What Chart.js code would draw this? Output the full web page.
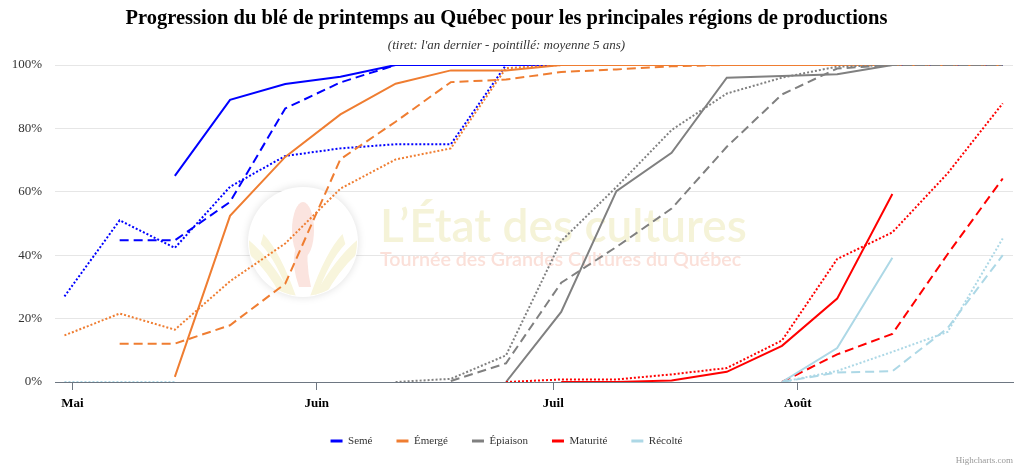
<!DOCTYPE html>
<html lang="fr">
<head>
<meta charset="utf-8">
<title>Progression du blé de printemps au Québec</title>
<script src="https://cdn.jsdelivr.net/npm/chart.js@4.4.1/dist/chart.umd.min.js"></script>
<style>
  html, body { margin: 0; padding: 0; background: #fff; }
</style>
</head>
<body>
<canvas id="chart" width="1024" height="468"></canvas>
<script>
// relevés hebdomadaires (mois-jour)
const semaines = ['04-30','05-07','05-14','05-21','05-28','06-04','06-11','06-18','06-25',
                  '07-02','07-09','07-16','07-23','07-30','08-06','08-13','08-20','08-27'];
const moisDebut = ['05-01','06-01','07-01','08-01'];
const moisLabels = ['Mai','Juin','Juil','Août'];
const pourcentTicks = [0, 20, 40, 60, 80, 100];

// Semé
const semeActuel    = [null,null,65,89,94,96.3,100,100,100,100,100,100,100,100,100,100,null,null];
const semeAnDernier = [null,44.7,44.7,56.8,86.3,94.5,100,100,100,100,100,100,100,100,100,100,100,100];
const semeMoyenne   = [27,51,42.3,61.6,71.3,73.7,75,75,100,100,100,100,100,100,100,100,100,100];

// Émergé
const emergeActuel    = [null,null,1.6,52.4,71,84.4,94.1,98.3,98.3,100,100,100,100,100,100,100,null,null];
const emergeAnDernier = [null,12.1,12.1,17.9,31,70.3,82.1,94.6,95.4,97.8,98.6,99.6,100,100,100,100,100,100];
const emergeMoyenne   = [14.7,21.6,16.5,31.8,43.7,61,70.2,73.7,99,100,100,100,100,100,100,100,100,100];

// Épiaison
const epiActuel    = [null,null,null,null,null,null,null,null,0,22.1,60.2,72.3,96,96.5,97.1,100,null,null];
const epiAnDernier = [null,null,null,null,null,null,null,0.3,5.9,31.3,42.6,54.7,74.2,90.7,98.9,100,100,100];
const epiMoyenne   = [null,null,null,null,null,null,0,1,8.4,44.5,61.5,79.5,91,96,99.5,100,100,100];

// Maturité
const matActuel    = [null,null,null,null,null,null,null,null,null,0,0,0.5,3.2,11.4,26.3,59.3,null,null];
const matAnDernier = [null,null,null,null,null,null,null,null,null,null,null,null,null,0,8.7,15.2,40.3,64.2];
const matMoyenne   = [null,null,null,null,null,null,null,null,0,0.8,0.8,2.4,4.4,13.1,38.8,47.2,65.8,87.9];

// Récolté
const recActuel    = [null,null,null,null,null,null,null,null,null,null,null,null,null,0,10.7,39.2,null,null];
const recAnDernier = [null,null,null,null,null,null,null,null,null,null,null,null,null,0,3,3.4,17,40];
const recMoyenne   = [0,0,0,null,null,null,null,null,null,null,null,null,null,0,3.5,9.5,15.8,45.3];

// jours depuis le 1er mai
const jourDe = (md) => {
    const [m, d] = md.split('-').map(Number);
    return (Date.UTC(2024, m - 1, d) - Date.UTC(2024, 4, 1)) / 86400000;
};
const joursSemaines = semaines.map(jourDe);
const joursMois = moisDebut.map(jourDe);

const POLICE = "'Liberation Serif', 'Times New Roman', serif";
Chart.defaults.font.family = POLICE;

const TIRET = [9, 5];
const POINTILLE = [2, 2];

function serie(nom, couleur, valeurs, tiret, legende) {
    return {
        label: nom,
        data: valeurs.map((v, i) => ({x: joursSemaines[i], y: v})),
        borderColor: couleur,
        backgroundColor: couleur,
        borderWidth: 2,
        borderDash: tiret,
        pointRadius: 0,
        pointHoverRadius: 0,
        tension: 0,
        fill: false,
        legende: legende
    };
}

const datasets = [
    serie('Semé', '#0000ff', semeActuel, [], true),
    serie('Semé (an dernier)', '#0000ff', semeAnDernier, TIRET, false),
    serie('Semé (moyenne)', '#0000ff', semeMoyenne, POINTILLE, false),
    serie('Émergé', '#ef7d31', emergeActuel, [], true),
    serie('Émergé (an dernier)', '#ef7d31', emergeAnDernier, TIRET, false),
    serie('Émergé (moyenne)', '#ef7d31', emergeMoyenne, POINTILLE, false),
    serie('Épiaison', '#808080', epiActuel, [], true),
    serie('Épiaison (an dernier)', '#808080', epiAnDernier, TIRET, false),
    serie('Épiaison (moyenne)', '#808080', epiMoyenne, POINTILLE, false),
    serie('Maturité', '#ff0000', matActuel, [], true),
    serie('Maturité (an dernier)', '#ff0000', matAnDernier, TIRET, false),
    serie('Maturité (moyenne)', '#ff0000', matMoyenne, POINTILLE, false),
    serie('Récolté', '#add8e6', recActuel, [], true),
    serie('Récolté (an dernier)', '#add8e6', recAnDernier, TIRET, false),
    serie('Récolté (moyenne)', '#add8e6', recMoyenne, POINTILLE, false)
];
// les dernières séries passent par-dessus
datasets.forEach((d, i) => d.order = datasets.length - i);

// filigrane + crédit
const filigrane = {
    id: 'filigrane',
    beforeDatasetsDraw(chart) {
        const ctx = chart.ctx;
        ctx.save();
        // logo rond
        const cx = 303, cy = 242, r = 55;
        ctx.shadowColor = 'rgba(0,0,0,0.13)';
        ctx.shadowBlur = 8;
        ctx.beginPath();
        ctx.arc(cx, cy, r, 0, Math.PI * 2);
        ctx.fillStyle = '#fff';
        ctx.fill();
        ctx.shadowBlur = 0;
        ctx.shadowColor = 'transparent';
        ctx.beginPath();
        ctx.arc(cx, cy, r - 1, 0, Math.PI * 2);
        ctx.clip();
        ctx.fillStyle = '#f8f5dc';
        [-1.1, -0.6, 0.6, 1.1].forEach(a => {
            ctx.beginPath();
            ctx.moveTo(cx + Math.sin(a) * 12, cy + 55);
            ctx.quadraticCurveTo(cx + Math.sin(a) * 40, cy + 10, cx + Math.sin(a) * 70, cy - 8);
            ctx.lineTo(cx + Math.sin(a) * 75, cy + 2);
            ctx.quadraticCurveTo(cx + Math.sin(a) * 45, cy + 20, cx + Math.sin(a) * 24, cy + 55);
            ctx.fill();
        });
        ctx.fillStyle = '#fbe4df';
        ctx.beginPath();
        ctx.ellipse(cx, cy - 12, 11, 28, 0, 0, Math.PI * 2);
        ctx.fill();
        ctx.beginPath();
        ctx.moveTo(cx - 4, cy + 45);
        ctx.quadraticCurveTo(cx - 18, cy + 5, cx + 6, cy - 10);
        ctx.quadraticCurveTo(cx + 2, cy + 20, cx + 8, cy + 45);
        ctx.fill();
        ctx.restore();

        ctx.save();
        ctx.textBaseline = 'alphabetic';
        ctx.textAlign = 'left';
        ctx.font = "600 44px Lato";
        let w = ctx.measureText('L’État des cultures').width;
        ctx.font = "600 " + (44 * 367 / w).toFixed(1) + "px Lato";
        ctx.fillStyle = '#f5f3d8';
        ctx.fillText('L’État des cultures', 380, 242);
        ctx.font = "600 18px Lato";
        w = ctx.measureText('Tournée des Grandes Cultures du Québec').width;
        ctx.font = "600 " + (18 * 362 / w).toFixed(1) + "px Lato";
        ctx.fillStyle = '#fbe0d9';
        ctx.fillText('Tournée des Grandes Cultures du Québec', 380, 266);
        ctx.restore();
    },
    afterDraw(chart) {
        const ctx = chart.ctx;
        ctx.save();
        ctx.font = "9px " + POLICE;
        ctx.fillStyle = '#999';
        ctx.textAlign = 'right';
        ctx.textBaseline = 'alphabetic';
        ctx.fillText('Highcharts.com', 1013, 463);
        ctx.restore();
    }
};

new Chart(document.getElementById('chart'), {
    type: 'line',
    data: {datasets},
    plugins: [filigrane],
    options: {
        responsive: false,
        animation: false,
        layout: {padding: {left: 0, right: 11, top: 0, bottom: 11.5}},
        plugins: {
            title: {
                display: true,
                text: 'Progression du blé de printemps au Québec pour les principales régions de productions',
                color: '#000',
                font: {size: 20.5, weight: 'bold'},
                padding: {top: 6, bottom: 0}
            },
            subtitle: {
                display: true,
                text: "(tiret: l'an dernier - pointillé: moyenne 5 ans)",
                color: '#333',
                font: {size: 13, style: 'italic'},
                padding: {top: 7, bottom: 11.8}
            },
            legend: {
                position: 'bottom',
                labels: {
                    boxWidth: 12,
                    boxHeight: 3,
                    padding: 24,
                    color: '#333',
                    font: {size: 11},
                    filter: (item, data) => data.datasets[item.datasetIndex].legende,
                    sort: (a, b) => a.datasetIndex - b.datasetIndex,
                    generateLabels: (chart) => Chart.defaults.plugins.legend.labels.generateLabels(chart)
                        .map(it => Object.assign(it, {lineWidth: 0, lineDash: []}))
                }
            },
            tooltip: {enabled: false}
        },
        scales: {
            x: {
                type: 'linear',
                min: -2.2,
                max: 119.3,
                afterBuildTicks: (s) => { s.ticks = joursMois.map(v => ({value: v})); },
                afterFit: (s) => { s.height = 29.5; },
                ticks: {
                    callback: (v, i) => moisLabels[i],
                    color: '#000',
                    font: {size: 13, weight: 'bold'},
                    padding: 6,
                    maxRotation: 0,
                    autoSkip: false
                },
                grid: {drawOnChartArea: false, color: '#6e7782', tickLength: 8},
                border: {color: '#6e7782', width: 1}
            },
            y: {
                min: 0,
                max: 100,
                afterBuildTicks: (s) => { s.ticks = pourcentTicks.map(v => ({value: v})); },
                afterFit: (s) => { s.width = 55; },
                ticks: {
                    callback: (v) => v + '%',
                    color: '#333',
                    font: {size: 13},
                    padding: 13
                },
                grid: {color: '#e6e6e6', drawTicks: false},
                border: {display: false}
            }
        }
    }
});
</script>
</body>
</html>
